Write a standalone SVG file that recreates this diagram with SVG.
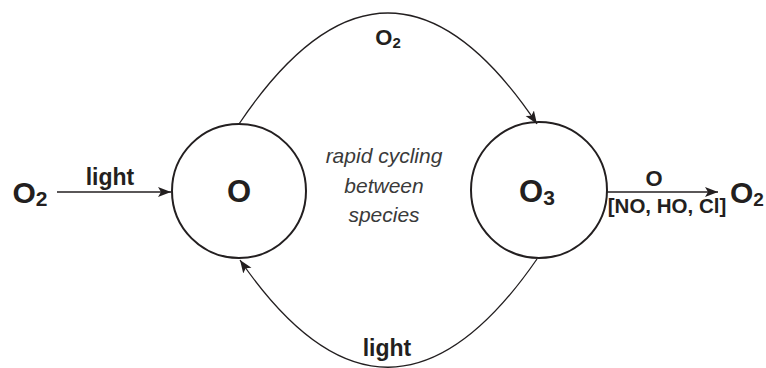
<svg xmlns="http://www.w3.org/2000/svg" width="766" height="368" viewBox="0 0 766 368">
<style>
.node{fill:none;stroke:#231f20;stroke-width:2}
.conn{fill:none;stroke:#231f20;stroke-width:1.3}
.lbl{font-family:"Liberation Sans",Arial,sans-serif;font-weight:bold;fill:#231f20;text-anchor:middle}
.it{font-family:"Liberation Sans",Arial,sans-serif;font-style:italic;fill:#3a3a3a;font-size:21px;text-anchor:middle}
</style>
<defs>
<marker id="ah" markerUnits="userSpaceOnUse" markerWidth="14" markerHeight="12" viewBox="0 0 14 12" refX="13" refY="6" orient="auto">
<path d="M0,1 L13,6 L0,11 L3,6 Z" fill="#231f20"/>
</marker>
</defs>
<rect width="766" height="368" fill="#fff"/>
<g id="connectors">
<line class="conn" x1="57" y1="192" x2="171" y2="192" marker-end="url(#ah)"/>
<path class="conn" d="M239,124 Q388,-98 537,124" marker-end="url(#ah)"/>
<path class="conn" d="M537,259 Q388,475 240,260" marker-end="url(#ah)"/>
<line class="conn" x1="607" y1="192" x2="718" y2="192" marker-end="url(#ah)"/>
<text class="lbl" x="110" y="185" font-size="23">light</text>
<text class="lbl" x="388" y="45" font-size="22">O<tspan font-size="15" dy="3">2</tspan></text>
<text class="lbl" x="387" y="356" font-size="23">light</text>
<text class="lbl" x="654" y="186" font-size="22">O</text>
<text class="lbl" x="667" y="213" font-size="20.5">[NO, HO, Cl]</text>
</g>
<g id="O2_left">
<text class="lbl" x="30" y="203" font-size="30">O<tspan font-size="21" dy="3">2</tspan></text>
</g>
<g id="O">
<circle class="node" cx="239" cy="191" r="67"/>
<text class="lbl" x="239" y="202" font-size="31">O</text>
</g>
<g id="O3">
<circle class="node" cx="539" cy="190" r="68"/>
<text class="lbl" x="537" y="202" font-size="31">O<tspan font-size="21" dy="3">3</tspan></text>
</g>
<g id="O2_right">
<text class="lbl" x="730" y="203" font-size="30" style="text-anchor:start">O<tspan font-size="19" dy="3">2</tspan></text>
</g>
<g id="note">
<text class="it" x="384" y="163">rapid cycling</text>
<text class="it" x="384" y="193">between</text>
<text class="it" x="384" y="222">species</text>
</g>
</svg>
